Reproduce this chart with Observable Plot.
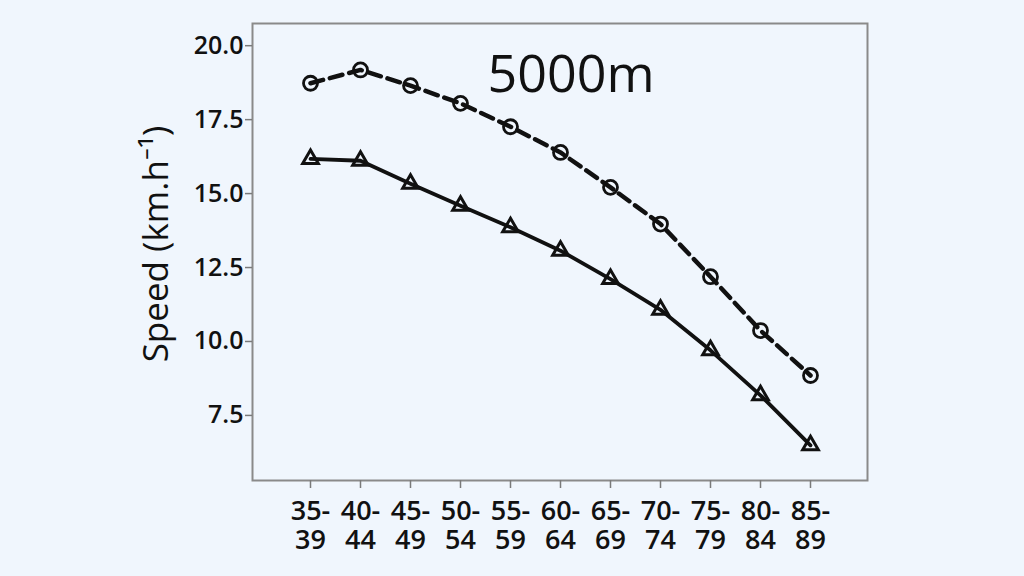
<!DOCTYPE html>
<html>
<head>
<meta charset="utf-8">
<script src="https://cdn.jsdelivr.net/npm/d3@7"></script>
<script src="https://cdn.jsdelivr.net/npm/@observablehq/plot@0.6"></script>
<style>
  html, body { margin: 0; padding: 0; background: #f0f6fd; }
  #chart svg { display: block; background: #f0f6fd; }
</style>
</head>
<body>
<div id="chart"></div>
<script>
const ageGroups = ["35-39","40-44","45-49","50-54","55-59","60-64","65-69","70-74","75-79","80-84","85-89"];
const speedDashed = [18.73, 19.18, 18.65, 18.05, 17.26, 16.39, 15.21, 13.97, 12.19, 10.37, 8.85];
const speedSolid = [16.17, 16.11, 15.33, 14.59, 13.86, 13.07, 12.11, 11.07, 9.70, 8.18, 6.49];
const yTicks = [7.5, 10, 12.5, 15, 17.5, 20];
const title = "5000m";
const yLabel = "Speed (km.h⁻¹)";

const dashed = ageGroups.map((a, i) => ({age: a, speed: speedDashed[i]}));
const solid = ageGroups.map((a, i) => ({age: a, speed: speedSolid[i]}));

const font = "'Open Sans', sans-serif";

const chart = Plot.plot({
  width: 1024,
  height: 576,
  marginLeft: 252,
  marginRight: 157,
  marginTop: 23,
  marginBottom: 96,
  style: {background: "#f0f6fd", fontFamily: font, color: "#111"},
  x: {type: "point", domain: ageGroups, padding: 1.07},
  y: {domain: [5.3, 20.75]},
  marks: [
    Plot.frame({stroke: "#8a8a8a", strokeWidth: 2}),
    Plot.axisY({
      ticks: yTicks, tickFormat: d3.format(".1f"), tickSize: 7, tickPadding: 2,
      fontSize: 25, fontWeight: 600, stroke: "#7a7a7a", strokeWidth: 1.5, label: null
    }),
    Plot.axisX({
      tickSize: 8, tickPadding: 12, fontSize: 27, fontWeight: 600,
      stroke: "#7a7a7a", strokeWidth: 1.5, label: null,
      tickFormat: d => d.split("-")[0] + "-"
    }),
    Plot.axisX({
      tickSize: 0, tickPadding: 49, fontSize: 27, fontWeight: 600, label: null,
      tickFormat: d => d.split("-")[1]
    }),
    Plot.text([yLabel], {
      frameAnchor: "left", rotate: -90, dx: -96, dy: -8, fontSize: 35, fontWeight: 500,
      fill: "#111", textAnchor: "middle"
    }),
    Plot.text([title], {
      frameAnchor: "top", dx: 11, dy: 52, fontSize: 52, fontWeight: 400,
      fill: "#111", lineAnchor: "middle"
    }),
    Plot.line(dashed, {x: "age", y: "speed", stroke: "#111", strokeWidth: 4.5, strokeDasharray: "13,7"}),
    Plot.line(solid, {x: "age", y: "speed", stroke: "#111", strokeWidth: 3.8}),
    Plot.dot(dashed, {x: "age", y: "speed", symbol: "circle", r: 7, stroke: "#111", strokeWidth: 2.8, fill: "none"}),
    Plot.dot(solid, {x: "age", y: "speed", symbol: "triangle", r: 5.8, stroke: "#111", strokeWidth: 3, fill: "none"})
  ]
});
document.getElementById("chart").appendChild(chart);
</script>
</body>
</html>
